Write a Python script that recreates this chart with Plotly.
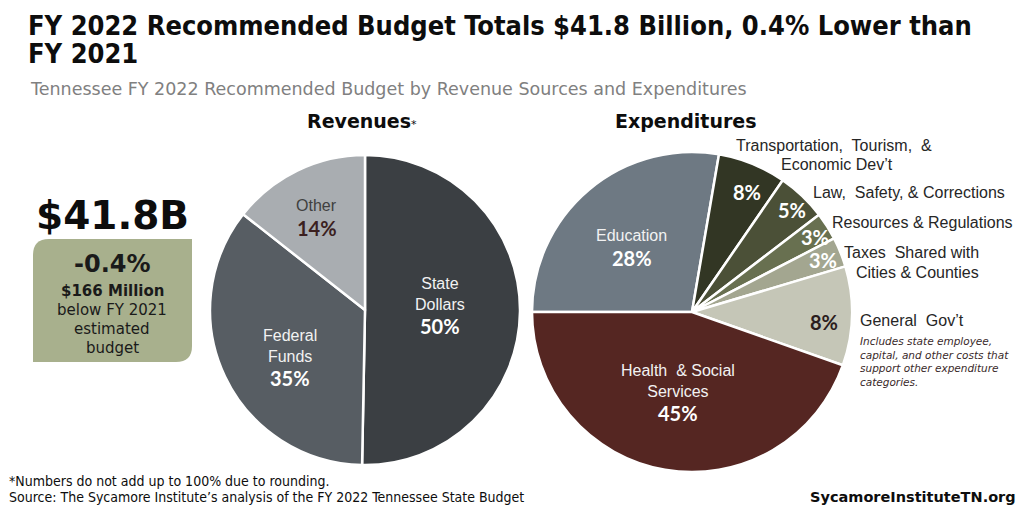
import math
import plotly.graph_objects as go

W, H = 1024, 512

# ---------------- data ----------------
rev_labels = ["State Dollars", "Federal Funds", "Other"]
rev_values = [50.3, 35.3, 14.4]
rev_pct_text = ["50%", "35%", "14%"]
rev_name_text = ["State<br>Dollars", "Federal<br>Funds", "Other"]

exp_labels = ["Education", "Transportation, Tourism, & Economic Dev't",
              "Law, Safety, & Corrections", "Resources & Regulations",
              "Taxes Shared with Cities & Counties", "General Gov't",
              "Health & Social Services"]
exp_values = [27.7, 6.9, 5.0, 2.8, 3.0, 10.0, 44.6]
exp_pct_text = ["28%", "8%", "5%", "3%", "3%", "8%", "45%"]
exp_name_text = ["Education", "", "", "", "", "", "Health  & Social<br>Services"]

total_text = "$41.8B"
change_text = "-0.4%"
change_amount = "$166 Million"

# ---------------- styles ----------------
rev_colors = ["#3b3f43", "#575d63", "#a9adb1"]
exp_colors = ["#6e7983", "#323624", "#4b5037", "#687050", "#a3a690", "#c5c6b7", "#552622"]

REV_C, REV_R, REV_ROT = (365, 310), 155, 0
EXP_C, EXP_R, EXP_ROT = (692, 312), 160, 270

# label placement (radius fraction, angle tweak in degrees)
rev_lab_style = [(0.485, -3.6), (0.574, -7.2), (0.675, -1.4)]
exp_lab_style = [(0.553, -2.6), (0.825, 2.5), (0.89, 0.8), (0.90, 1.0),
                 (0.88, 0.4), (0.83, 2.9), (0.51, 0.2)]
rev_name_col = ["#f2f2f2", "#f2f2f2", "#404040"]
rev_pct_col = ["#ffffff", "#ffffff", "#3b1f1f"]
exp_name_col = ["#f2f2f2"] * 7
exp_pct_col = ["#ffffff", "#ffffff", "#ffffff", "#ffffff", "#ffffff", "#2b1d1d", "#ffffff"]

SANS = "Liberation Sans, Arial, sans-serif"
COND = "DejaVu Sans Condensed, sans-serif"
WIDE = "DejaVu Sans, sans-serif"
GEO = "Lato, Noto Sans, sans-serif"


def px(x):
    return x / W


def py(y):
    return 1 - y / H


def domain(c, r):
    return dict(x=[px(c[0] - r), px(c[0] + r)], y=[py(c[1] + r), py(c[1] - r)])


fig = go.Figure()
fig.add_trace(go.Pie(labels=rev_labels, values=rev_values, sort=False,
                     direction="clockwise", rotation=REV_ROT,
                     marker=dict(colors=rev_colors, line=dict(color="white", width=2.5)),
                     textinfo="none", hoverinfo="label+percent",
                     domain=domain(REV_C, REV_R), showlegend=False))
fig.add_trace(go.Pie(labels=exp_labels, values=exp_values, sort=False,
                     direction="clockwise", rotation=EXP_ROT,
                     marker=dict(colors=exp_colors, line=dict(color="white", width=2.5)),
                     textinfo="none", hoverinfo="label+percent",
                     domain=domain(EXP_C, EXP_R), showlegend=False))

ann = []


def add_text(x, y, text, size, color="#262626", family=SANS, xanchor="center",
             yanchor="middle", align="center", style="normal"):
    ann.append(dict(x=px(x), y=py(y), xref="paper", yref="paper", text=text,
                    showarrow=False, xanchor=xanchor, yanchor=yanchor, align=align,
                    borderpad=0,
                    font=dict(size=size, color=color, family=family, style=style)))


def slice_labels(values, rot, c, r, styles, names, pcts, ncol, pcol, name_size, pct_size):
    tot = sum(values)
    cum = 0
    for i, v in enumerate(values):
        mid = rot + (cum + v / 2) / tot * 360
        cum += v
        f, tweak = styles[i]
        a = math.radians(mid + tweak)
        x = c[0] + f * r * math.sin(a)
        y = c[1] - f * r * math.cos(a)
        nlines = names[i].count("<br>") + 1 if names[i] else 0
        lh = 20
        if nlines:
            block = nlines * lh + 23
            top = y - block / 2
            add_text(x, top + nlines * lh / 2, names[i], name_size, ncol[i])
            add_text(x, top + nlines * lh + 12, "<b>" + pcts[i] + "</b>", pct_size, pcol[i], GEO)
        else:
            add_text(x, y, "<b>" + pcts[i] + "</b>", pct_size, pcol[i], GEO)


slice_labels(rev_values, REV_ROT, REV_C, REV_R, rev_lab_style, rev_name_text,
             rev_pct_text, rev_name_col, rev_pct_col, 16, 20)
slice_labels(exp_values, EXP_ROT, EXP_C, EXP_R, exp_lab_style, exp_name_text,
             exp_pct_text, exp_name_col, exp_pct_col, 16, 20)

# titles
add_text(27, 25, "<b>FY 2022 Recommended Budget Totals $41.8 Billion, 0.4% Lower than</b>",
         27, "#0d0d0d", COND, xanchor="left")
add_text(27, 53, "<b>FY 2021</b>", 27, "#0d0d0d", COND, xanchor="left")
add_text(29, 89, "Tennessee FY 2022 Recommended Budget by Revenue Sources and Expenditures",
         17.5, "#808080", WIDE, xanchor="left")

add_text(362, 121, "<b>Revenues</b><span style='font-size:11px'>*</span>", 19, "#0d0d0d", WIDE)
add_text(686, 121, "<b>Expenditures</b>", 19, "#0d0d0d", WIDE)

# outside expenditure labels
add_text(834, 145, "Transportation,  Tourism,  &", 16)
add_text(837, 164, "Economic Dev’t", 16)
add_text(812, 192, "Law,  Safety, & Corrections", 16, xanchor="left")
add_text(831, 222, "Resources & Regulations", 16, xanchor="left")
add_text(911, 252, "Taxes  Shared with", 16)
add_text(917, 272, "Cities & Counties", 16)
add_text(859, 320, "General  Gov’t", 16, xanchor="left")
add_text(859, 361, "Includes state employee,<br>capital, and other costs that<br>"
         "support other expenditure<br>categories.", 10.5, "#3a2a2a", WIDE,
         xanchor="left", align="left", style="italic")

# total box
add_text(112, 215, "<b>" + total_text + "</b>", 39, "#0d0d0d", WIDE)
bx0, bx1, by0, by1, R = 33, 192, 239, 362, 16
path = (f"M {px(bx0)},{py(by0 + R)} Q {px(bx0)},{py(by0)} {px(bx0 + R)},{py(by0)} "
        f"L {px(bx1)},{py(by0)} L {px(bx1)},{py(by1 - R)} "
        f"Q {px(bx1)},{py(by1)} {px(bx1 - R)},{py(by1)} L {px(bx0)},{py(by1)} Z")
shapes = [dict(type="path", path=path, xref="paper", yref="paper",
               fillcolor="#a8b08d", line=dict(width=0), layer="below")]
add_text(112, 264, "<b>" + change_text + "</b>", 24, "#1a1a1a", WIDE)
add_text(112, 291, "<b>" + change_amount + "</b>", 15, "#1a1a1a", WIDE)
add_text(112, 310, "below FY 2021", 15, "#1a1a1a", WIDE)
add_text(112, 329, "estimated", 15, "#1a1a1a", WIDE)
add_text(112, 348, "budget", 15, "#1a1a1a", WIDE)

# footer
add_text(8, 481, "*Numbers do not add up to 100% due to rounding.", 14, "#0d0d0d",
         COND, xanchor="left")
add_text(8, 497, "Source: The Sycamore Institute’s analysis of the FY 2022 Tennessee State Budget",
         14, "#0d0d0d", COND, xanchor="left")
add_text(1017, 497, "<b>SycamoreInstituteTN.org</b>", 14.5, "#0d0d0d", WIDE, xanchor="right")

fig.update_layout(width=W, height=H, margin=dict(l=0, r=0, t=0, b=0),
                  paper_bgcolor="white", plot_bgcolor="white",
                  annotations=ann, shapes=shapes, showlegend=False)
fig.write_html("out.html", config={"displayModeBar": False},
               post_script="document.body.style.margin='0px';document.body.style.overflow='hidden';")
